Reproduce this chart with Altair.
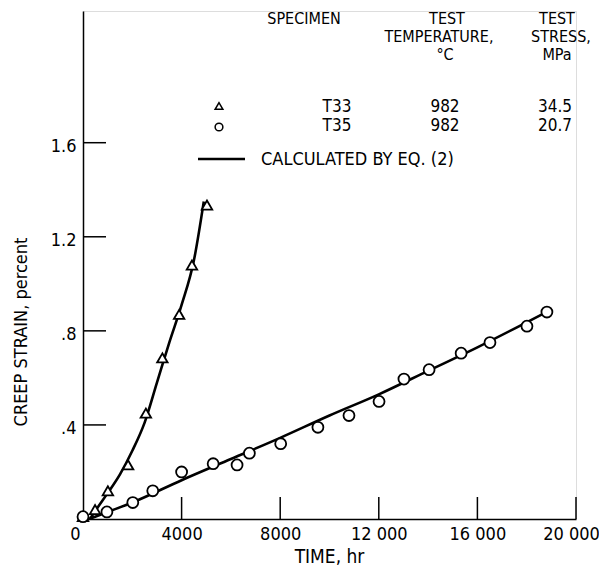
import altair as alt
import pandas as pd

# ---- data ----
t33_time = [0, 490, 1010, 1830, 2550, 3220, 3900, 4420, 5030]
t33_strain = [0.01, 0.04, 0.12, 0.23, 0.45, 0.685, 0.87, 1.08, 1.335]

t35_time = [0, 970, 2020, 2830, 4000, 5280, 6250, 6750, 8020, 9530, 10790,
            12010, 13020, 14040, 15340, 16510, 18010, 18820]
t35_strain = [0.01, 0.03, 0.07, 0.12, 0.20, 0.235, 0.23, 0.28, 0.32, 0.39, 0.44,
              0.50, 0.595, 0.635, 0.705, 0.75, 0.82, 0.88]

calc33_time = [280, 600, 1000, 1500, 2000, 2500, 3000, 3500, 4000, 4500, 4900]
calc33_strain = [0.0, 0.05, 0.11, 0.19, 0.29, 0.41, 0.58, 0.75, 0.91, 1.10, 1.35]

calc35_time = [250, 1000, 2000, 4000, 6000, 8000, 10000, 12000, 14000, 16000, 18800]
calc35_strain = [0.0, 0.03, 0.07, 0.165, 0.255, 0.345, 0.44, 0.53, 0.63, 0.73, 0.88]

x_ticks = [0, 4000, 8000, 12000, 16000, 20000]
x_tick_labels = ["0", "4000", "8000", "12 000", "16 000", "20 000"]
y_ticks = [0.4, 0.8, 1.2, 1.6]
y_tick_labels = [".4", ".8", "1.2", "1.6"]

header_rows = [
    ["SPECIMEN", "TEST", "TEST"],
    ["", "TEMPERATURE,", "STRESS,"],
    ["", "°C", "MPa"],
]
specimen_rows = [
    ["T33", "982", "34.5"],
    ["T35", "982", "20.7"],
]
calc_label = "CALCULATED BY EQ. (2)"

FONT = "Liberation Sans Narrow, DejaVu Sans Condensed, Liberation Sans"
W, H = 493, 508
XMAX, YMAX = 20000, 2.16

pts33 = pd.DataFrame({"t": t33_time, "s": t33_strain})
pts35 = pd.DataFrame({"t": t35_time, "s": t35_strain})
c33 = pd.DataFrame({"t": calc33_time, "s": calc33_strain})
c35 = pd.DataFrame({"t": calc35_time, "s": calc35_strain})

xs = alt.Scale(domain=[0, XMAX], nice=False, zero=True)
ys = alt.Scale(domain=[0, YMAX], nice=False)

xlab = "{" + ",".join(f"'{v}':'{l}'" for v, l in zip(x_ticks, x_tick_labels)) + "}"
ylab = "{" + ",".join(f"'{v}':'{l}'" for v, l in zip(y_ticks, y_tick_labels)) + "}"

x_axis = alt.Axis(values=x_ticks, labelExpr=f"{xlab}[datum.value + '']", ticks=False,
                  grid=False, title=None, labelFont=FONT, labelFontSize=18,
                  labelColor="black", labelPadding=6, domainColor="black",
                  domainWidth=1.5, labelAlign="center",
                  labelOffset=alt.ExprRef(
                      "datum.value == 0 ? -8 : (datum.value == 20000 ? -5 : 0)"))
y_axis = alt.Axis(values=y_ticks, labelExpr=f"{ylab}[datum.value + '']", ticks=False,
                  grid=False, title=None, labelFont=FONT, labelFontSize=18,
                  labelColor="black", labelPadding=7, labelOffset=4,
                  domainColor="black", domainWidth=1.5)

base_axes = alt.Chart(pd.DataFrame({"t": [0, XMAX], "s": [0, YMAX]})).mark_point(opacity=0).encode(
    x=alt.X("t:Q", scale=xs, axis=x_axis),
    y=alt.Y("s:Q", scale=ys, axis=y_axis),
)

# inward tick marks
yt = alt.Chart(pd.DataFrame({"s": y_ticks})).mark_rule(color="black", strokeWidth=1.5).encode(
    y=alt.Y("s:Q", scale=ys), x=alt.value(0), x2=alt.value(23))
xt = alt.Chart(pd.DataFrame({"t": x_ticks[1:]})).mark_rule(color="black", strokeWidth=1.5).encode(
    x=alt.X("t:Q", scale=xs), y=alt.value(H), y2=alt.value(H - 22))

line33 = alt.Chart(c33).mark_line(color="black", strokeWidth=2.6, interpolate="monotone").encode(
    x=alt.X("t:Q", scale=xs), y=alt.Y("s:Q", scale=ys))
line35 = alt.Chart(c35).mark_line(color="black", strokeWidth=2.6, interpolate="monotone").encode(
    x=alt.X("t:Q", scale=xs), y=alt.Y("s:Q", scale=ys))

tri = alt.Chart(pts33).mark_point(shape="triangle-up", filled=True, fill="white", stroke="black",
                                  strokeWidth=1.8, size=110, opacity=1).encode(
    x=alt.X("t:Q", scale=xs), y=alt.Y("s:Q", scale=ys))
circ = alt.Chart(pts35).mark_point(shape="circle", filled=True, fill="white", stroke="black",
                                   strokeWidth=1.8, size=120, opacity=1).encode(
    x=alt.X("t:Q", scale=xs), y=alt.Y("s:Q", scale=ys))

# legend / header table (pixel layout)
head_x = [[221, 364, 474], [221, 356, 478], [221, 362, 474]]
head_y = [8, 26, 44]
row_x = [254, 362, 472]
row_y = [96, 115]
head_txt, row_txt = [], []
for r, row in enumerate(header_rows):
    for c, txt in enumerate(row):
        if txt:
            head_txt.append({"text": txt, "px": head_x[r][c], "py": head_y[r]})
for r, row in enumerate(specimen_rows):
    for c, txt in enumerate(row):
        row_txt.append({"text": txt, "px": row_x[c], "py": row_y[r]})

header_text = alt.Chart(pd.DataFrame(head_txt)).mark_text(
    font=FONT, fontSize=16, color="black", align="center", baseline="middle").encode(
    x=alt.X("px:Q", scale=None), y=alt.Y("py:Q", scale=None), text="text:N")
rows_text = alt.Chart(pd.DataFrame(row_txt)).mark_text(
    font=FONT, fontSize=17, color="black", align="center", baseline="middle").encode(
    x=alt.X("px:Q", scale=None), y=alt.Y("py:Q", scale=None), text="text:N")

calc_text = alt.Chart(pd.DataFrame({"text": [calc_label]})).mark_text(
    font=FONT, fontSize=18, color="black", align="left", baseline="middle").encode(
    x=alt.value(178), y=alt.value(149), text="text:N")
calc_line = alt.Chart(pd.DataFrame({"a": [0]})).mark_rule(color="black", strokeWidth=2.6).encode(
    x=alt.value(115), x2=alt.value(162), y=alt.value(148))
leg_tri = alt.Chart(pd.DataFrame({"a": [0]})).mark_point(
    shape="triangle-up", filled=True, fill="white", stroke="black", strokeWidth=1.5,
    size=60, opacity=1).encode(x=alt.value(136), y=alt.value(95))
leg_circ = alt.Chart(pd.DataFrame({"a": [0]})).mark_point(
    shape="circle", filled=True, fill="white", stroke="black", strokeWidth=1.5,
    size=60, opacity=1).encode(x=alt.value(136), y=alt.value(116))

x_title = alt.Chart(pd.DataFrame({"text": ["TIME,  hr"]})).mark_text(
    font=FONT, fontSize=19, color="black", align="center", baseline="middle").encode(
    x=alt.value(W / 2), y=alt.value(H + 38), text="text:N")
y_title = alt.Chart(pd.DataFrame({"text": ["CREEP STRAIN,  percent"]})).mark_text(
    font=FONT, fontSize=18, color="black", align="center", baseline="middle", angle=270).encode(
    x=alt.value(-61), y=alt.value(321), text="text:N")

chart = alt.layer(
    base_axes, yt, xt, line33, line35, tri, circ,
    header_text, rows_text, calc_text, calc_line, leg_tri, leg_circ, x_title, y_title,
).properties(
    width=W, height=H,
    autosize=alt.AutoSizeParams(type="none"),
    padding={"left": 75, "top": 3, "right": 23, "bottom": 48},
).configure_view(stroke=None).configure(background="white")

chart.save("out.html", embed_options={"renderer": "svg", "actions": False})
